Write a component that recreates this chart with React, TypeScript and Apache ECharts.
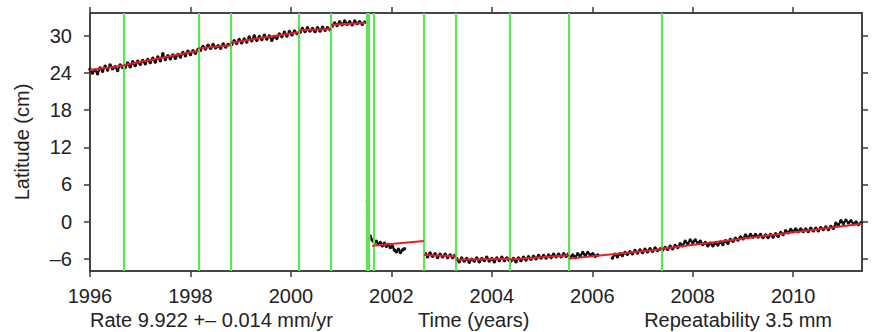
import React, { useEffect, useRef } from "react";
import * as echarts from "echarts";

// ---- Tick labels ----
const xTickYears = [1996, 1998, 2000, 2002, 2004, 2006, 2008, 2010];
const yTickValues = [-6, 0, 6, 12, 18, 24, 30];

// ---- Equipment / offset epochs (green lines) ----
const offsetEpochs = [
  1996.68, 1998.16, 1998.8, 2000.16, 2000.8, 2001.5, 2001.54, 2001.64,
  2002.65, 2003.28, 2004.36, 2005.54, 2007.38,
];

// ---- Fitted model (red) segments ----
const fitStartYear = [1996.0, 1996.68, 1998.16, 1998.8, 2000.16, 2000.8, 2001.62, 2002.65, 2003.28, 2004.36, 2005.54, 2007.38];
const fitEndYear = [1996.68, 1998.16, 1998.8, 2000.16, 2000.8, 2001.5, 2002.65, 2003.28, 2004.36, 2005.54, 2007.38, 2011.37];
const fitStartVal = [24.5, 25.3, 28.0, 28.9, 30.9, 31.8, -3.9, -5.4, -6.2, -6.15, -6.0, -4.4];
const fitEndVal = [25.2, 27.6, 28.5, 30.6, 31.1, 32.1, -3.15, -5.6, -6.0, -5.45, -4.5, -0.35];

// ---- GPS daily positions (black), by continuous span ----
const gps1996_2001: [number, number][] = [
  [1996.0, 24.6], [1996.05, 24.0], [1996.1, 24.5], [1996.15, 23.9], [1996.2, 24.8], [1996.25, 24.3],
  [1996.3, 25.1], [1996.35, 24.5], [1996.4, 25.3], [1996.45, 24.7], [1996.5, 25.0], [1996.55, 24.4],
  [1996.6, 25.3], [1996.65, 24.9],
  [1996.7, 24.9], [1996.75, 25.6], [1996.8, 25.0], [1996.85, 25.8], [1996.9, 25.2], [1996.95, 25.9],
  [1997.0, 25.4], [1997.05, 26.0], [1997.1, 25.5], [1997.15, 26.2], [1997.2, 25.7], [1997.25, 26.4],
  [1997.3, 25.8], [1997.35, 26.6], [1997.4, 26.0], [1997.45, 27.1], [1997.5, 26.2], [1997.55, 26.8],
  [1997.6, 26.3], [1997.65, 26.9], [1997.7, 26.4], [1997.75, 27.0], [1997.8, 26.6], [1997.85, 27.3],
  [1997.9, 26.8], [1997.95, 27.5], [1998.0, 27.0], [1998.05, 27.6], [1998.1, 27.2], [1998.15, 27.8],
  [1998.2, 27.7], [1998.25, 28.3], [1998.3, 27.9], [1998.35, 28.5], [1998.4, 28.0], [1998.45, 28.6],
  [1998.5, 28.1], [1998.55, 28.4], [1998.6, 28.0], [1998.65, 28.7], [1998.7, 28.2], [1998.75, 28.6],
  [1998.82, 28.6], [1998.87, 29.2], [1998.92, 28.8], [1998.97, 29.4], [1999.02, 28.9], [1999.07, 29.5],
  [1999.12, 29.0], [1999.17, 29.8], [1999.22, 29.2], [1999.27, 30.0], [1999.32, 29.3], [1999.37, 29.9],
  [1999.42, 29.4], [1999.47, 30.1], [1999.52, 29.5], [1999.57, 30.0], [1999.62, 29.3], [1999.67, 29.9],
  [1999.72, 29.6], [1999.77, 30.3], [1999.82, 29.9], [1999.87, 30.6], [1999.92, 30.0], [1999.97, 30.7],
  [2000.02, 30.2], [2000.07, 30.8], [2000.12, 30.4],
  [2000.18, 30.6], [2000.23, 31.2], [2000.28, 30.7], [2000.33, 31.3], [2000.38, 30.8], [2000.43, 31.2],
  [2000.48, 30.7], [2000.53, 31.3], [2000.58, 30.8], [2000.63, 31.4], [2000.68, 30.9], [2000.73, 31.3],
  [2000.78, 31.0],
  [2000.82, 31.6], [2000.87, 32.1], [2000.92, 31.7], [2000.97, 32.3], [2001.02, 31.8], [2001.07, 32.4],
  [2001.12, 31.9], [2001.17, 32.3], [2001.22, 31.8], [2001.27, 32.4], [2001.32, 32.0], [2001.37, 32.3],
  [2001.42, 31.9], [2001.47, 32.2],
];

const gpsPostseismic: [number, number][] = [
  [2001.58, -2.4], [2001.62, -3.0], [2001.66, -3.4], [2001.7, -3.2], [2001.74, -3.7], [2001.78, -3.4],
  [2001.82, -3.9], [2001.86, -3.5], [2001.9, -4.0], [2001.94, -3.7], [2001.98, -4.2], [2002.02, -4.0],
  [2002.06, -4.6], [2002.1, -4.9], [2002.14, -4.5], [2002.18, -5.0], [2002.22, -4.6], [2002.26, -4.4],
];

const gps2002_2005: [number, number][] = [
  [2002.68, -5.2], [2002.72, -5.7], [2002.77, -5.1], [2002.82, -5.6], [2002.87, -5.2], [2002.92, -5.8],
  [2002.97, -5.3], [2003.02, -5.7], [2003.07, -5.3], [2003.12, -5.8], [2003.17, -5.4], [2003.22, -5.8],
  [2003.26, -5.5],
  [2003.3, -6.0], [2003.35, -6.5], [2003.4, -5.9], [2003.45, -6.4], [2003.5, -6.0], [2003.55, -6.6],
  [2003.6, -6.1], [2003.65, -6.4], [2003.7, -5.9], [2003.75, -6.5], [2003.8, -6.0], [2003.85, -6.3],
  [2003.9, -5.8], [2003.95, -6.4], [2004.0, -6.0], [2004.05, -6.5], [2004.1, -5.9], [2004.15, -6.3],
  [2004.2, -5.8], [2004.25, -6.3], [2004.3, -5.9], [2004.34, -6.2],
  [2004.38, -6.4], [2004.43, -6.0], [2004.48, -6.5], [2004.53, -5.9], [2004.58, -6.3], [2004.63, -5.8],
  [2004.68, -6.2], [2004.73, -5.7], [2004.78, -6.1], [2004.83, -5.6], [2004.88, -6.0], [2004.93, -5.5],
  [2004.98, -5.9], [2005.03, -5.5], [2005.08, -5.9], [2005.13, -5.4], [2005.18, -5.8], [2005.23, -5.3],
  [2005.28, -5.7], [2005.33, -5.3], [2005.38, -5.7], [2005.43, -5.2], [2005.48, -5.6], [2005.52, -5.3],
  [2005.56, -5.8], [2005.61, -5.4], [2005.66, -5.8], [2005.71, -5.2], [2005.76, -5.6], [2005.81, -5.0],
  [2005.86, -5.5], [2005.91, -5.0], [2005.96, -5.4], [2006.01, -5.2], [2006.06, -5.6], [2006.11, -5.4],
];

const gps2006_2011: [number, number][] = [
  [2006.4, -5.9], [2006.45, -5.3], [2006.5, -5.7], [2006.55, -5.2], [2006.6, -5.5], [2006.65, -5.0],
  [2006.7, -5.3], [2006.75, -4.9], [2006.8, -5.2], [2006.85, -4.7], [2006.9, -5.1], [2006.95, -4.6],
  [2007.0, -5.0], [2007.05, -4.5], [2007.1, -4.9], [2007.15, -4.4], [2007.2, -4.8], [2007.25, -4.3],
  [2007.3, -4.7], [2007.36, -4.4],
  [2007.4, -4.6], [2007.45, -4.2], [2007.5, -4.5], [2007.55, -4.0], [2007.6, -4.4], [2007.65, -3.9],
  [2007.7, -4.2], [2007.75, -3.6], [2007.8, -3.9], [2007.85, -3.2], [2007.9, -3.6], [2007.95, -3.0],
  [2008.0, -3.4], [2008.05, -3.0], [2008.1, -3.5], [2008.15, -3.2], [2008.2, -3.7], [2008.25, -3.4],
  [2008.3, -3.9], [2008.35, -3.5], [2008.4, -3.9], [2008.45, -3.5], [2008.5, -3.8], [2008.55, -3.3],
  [2008.6, -3.7], [2008.65, -3.1], [2008.7, -3.5], [2008.75, -2.9], [2008.8, -3.2], [2008.85, -2.7],
  [2008.9, -3.0], [2008.95, -2.5], [2009.0, -2.8], [2009.05, -2.2], [2009.1, -2.6], [2009.15, -2.1],
  [2009.2, -2.5], [2009.25, -2.1], [2009.3, -2.5], [2009.35, -2.1], [2009.4, -2.6], [2009.45, -2.2],
  [2009.5, -2.6], [2009.55, -2.1], [2009.6, -2.5], [2009.65, -2.0], [2009.7, -2.4], [2009.75, -1.8],
  [2009.8, -2.1], [2009.85, -1.5], [2009.9, -1.8], [2009.95, -1.3], [2010.0, -1.6], [2010.05, -1.2],
  [2010.1, -1.6], [2010.15, -1.2], [2010.2, -1.6], [2010.25, -1.2], [2010.3, -1.6], [2010.35, -1.1],
  [2010.4, -1.5], [2010.45, -1.1], [2010.5, -1.5], [2010.55, -1.0], [2010.6, -1.3], [2010.65, -0.9],
  [2010.7, -1.3], [2010.75, -0.8], [2010.8, -1.1], [2010.85, -0.3], [2010.9, -0.6], [2010.95, 0.1],
  [2011.0, -0.3], [2011.05, 0.2], [2011.1, -0.2], [2011.15, 0.1], [2011.2, -0.4], [2011.25, -0.1],
  [2011.3, -0.5], [2011.35, -0.2],
];

// coseismic transient samples (green dots)
const gpsTransient: [number, number][] = [
  [2001.51, 3.3], [2001.515, 2.2], [2001.52, 1.1], [2001.53, -0.2], [2001.54, -1.2], [2001.55, -1.9],
];
const gpsTransientLast: [number, number][] = [[2001.57, -2.6]];

const X_MIN = 1996;
const X_MAX = 2011.37;
const Y_MIN = -8;
const Y_MAX = 33.7;

const FONT = "'Liberation Sans', Arial, sans-serif";
const GREEN = "#5fe35a";
const RED = "#e3202a";

export default function App() {
  const ref = useRef<HTMLDivElement>(null);

  useEffect(() => {
    if (!ref.current) return;
    const chart = echarts.init(ref.current, null, { renderer: "svg" });

    const spans = [gps1996_2001, gpsPostseismic, gps2002_2005, gps2006_2011];
    const gpsData: any[] = [];
    spans.forEach((s, i) => {
      if (i > 0) gpsData.push(["-", "-"]);
      s.forEach((p) => gpsData.push(p));
    });

    const fitData: any[] = [];
    fitStartYear.forEach((x0, i) => {
      if (i > 0) fitData.push(["-", "-"]);
      fitData.push([x0, fitStartVal[i]]);
      fitData.push([fitEndYear[i], fitEndVal[i]]);
    });

    const axisLineStyle = { color: "#3a3a3a", width: 1.5 };
    const labelStyle = { fontFamily: FONT, fontSize: 20, color: "#222" };

    chart.setOption({
      animation: false,
      backgroundColor: "#ffffff",
      grid: {
        left: 90,
        right: 13,
        top: 13,
        bottom: 61,
        show: true,
        borderColor: "#3a3a3a",
        borderWidth: 1.5,
        backgroundColor: "#ffffff",
      },
      xAxis: [
        {
          type: "value",
          position: "bottom",
          min: X_MIN,
          max: X_MAX,
          splitLine: { show: false },
          axisLine: { show: true, onZero: false, lineStyle: axisLineStyle },
          axisTick: { show: true, length: 6, inside: false, customValues: xTickYears, lineStyle: axisLineStyle },
          axisLabel: { ...labelStyle, margin: 15, customValues: xTickYears, formatter: (v: number) => String(v) },
        },
        {
          type: "value",
          position: "top",
          min: X_MIN,
          max: X_MAX,
          splitLine: { show: false },
          axisLine: { show: true, onZero: false, lineStyle: axisLineStyle },
          axisTick: { show: true, length: 6, inside: false, customValues: xTickYears, lineStyle: axisLineStyle },
          axisLabel: { show: false },
        },
      ],
      yAxis: [
        {
          type: "value",
          position: "left",
          min: Y_MIN,
          max: Y_MAX,
          name: "Latitude (cm)",
          nameLocation: "middle",
          nameGap: 58,
          nameTextStyle: { fontFamily: FONT, fontSize: 20, color: "#222" },
          splitLine: { show: false },
          axisLine: { show: true, onZero: false, lineStyle: axisLineStyle },
          axisTick: { show: true, length: 6, inside: false, customValues: yTickValues, lineStyle: axisLineStyle },
          axisLabel: { ...labelStyle, margin: 18, customValues: yTickValues, formatter: (v: number) => (v < 0 ? "–" + Math.abs(v) : String(v)) },
        },
        {
          type: "value",
          position: "right",
          min: Y_MIN,
          max: Y_MAX,
          splitLine: { show: false },
          axisLine: { show: true, onZero: false, lineStyle: axisLineStyle },
          axisTick: { show: true, length: 6, inside: false, customValues: yTickValues, lineStyle: axisLineStyle },
          axisLabel: { show: false },
        },
      ],
      graphic: [
        {
          type: "text",
          left: 90,
          top: 310,
          style: { text: "Rate 9.922 +– 0.014 mm/yr", fontFamily: FONT, fontSize: 20, fill: "#222" },
        },
        {
          type: "text",
          left: 418,
          top: 310,
          style: { text: "Time (years)", fontFamily: FONT, fontSize: 20, fill: "#222" },
        },
        {
          type: "text",
          right: 43,
          top: 310,
          style: { text: "Repeatability 3.5 mm", fontFamily: FONT, fontSize: 20, fill: "#222" },
        },
      ],
      series: [
        {
          name: "offsets",
          type: "line",
          data: [],
          z: 1,
          markLine: {
            silent: true,
            symbol: ["none", "none"],
            label: { show: false },
            lineStyle: { color: GREEN, width: 2.2, type: "solid" },
            data: offsetEpochs.map((x) => ({ xAxis: x })),
          },
        },
        {
          name: "GPS",
          type: "line",
          data: gpsData,
          z: 3,
          connectNulls: false,
          showSymbol: true,
          symbol: "circle",
          symbolSize: 3.5,
          itemStyle: { color: "#111" },
          lineStyle: { color: "#111", width: 2.2 },
        },
        {
          name: "transient",
          type: "scatter",
          data: gpsTransient,
          z: 4,
          symbolSize: 2.5,
          itemStyle: { color: "#3cb83c" },
        },
        {
          name: "transientLast",
          type: "scatter",
          data: gpsTransientLast,
          z: 4,
          symbolSize: 4,
          itemStyle: { color: "#8a3a20" },
        },
        {
          name: "fit",
          type: "line",
          data: fitData,
          z: 5,
          connectNulls: false,
          showSymbol: false,
          lineStyle: { color: RED, width: 2 },
        },
      ],
    });

    return () => chart.dispose();
  }, []);

  return (
    <div
      ref={ref}
      style={{ position: "fixed", left: 0, top: 0, width: 875, height: 332, background: "#fff" }}
    />
  );
}
